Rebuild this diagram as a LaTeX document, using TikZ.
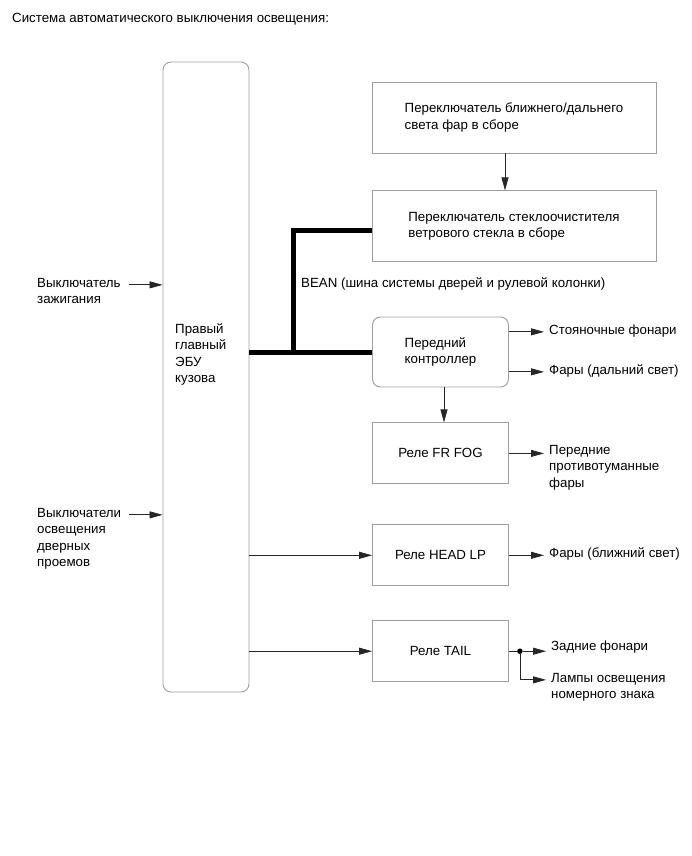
\documentclass[tikz,border=0pt]{standalone}
\usepackage{fontspec}
\setmainfont{Liberation Sans}
\usetikzlibrary{arrows.meta,positioning}

% multi-line text whose baseline is the first line
\newcommand{\toplines}[1]{\begin{tabular}[t]{@{}l@{}}#1\end{tabular}}

\begin{document}
\begin{tikzpicture}[
    x=1pt, y=-1pt,
    font=\fontsize{13.3}{16.3}\selectfont,
    node distance=35pt,
    box/.style={rectangle, draw=black!38, line width=0.9pt, minimum width=136pt, minimum height=61pt, align=left},
    wide/.style={box, minimum width=284pt, minimum height=71pt},
    rbox/.style={box, rounded corners=8pt},
    lbl/.style={align=left, inner sep=0pt},
    dot/.style={circle, fill=black, inner sep=0pt, minimum size=5.5pt},
    line/.style={line width=0.8pt, draw=black!85},
    arrow/.style={line, -{Triangle[length=13pt,width=7pt]}},
    outarrow/.style={arrow, shorten >=5pt},
    bus/.style={line width=5pt}
]
    \useasboundingbox (0,0) rectangle (692,856);
    \node[lbl, anchor=base west] (title) at (12,22.5) {Система автоматического выключения освещения:};

    % body ECU
    \node[rbox, minimum width=86pt, minimum height=630pt] (ecu) at (206,377) {};
    \node[lbl, anchor=base west] (ecutxt) at (175,333.5) {\toplines{Правый\\главный\\ЭБУ\\кузова}};

    % switches and controller
    \node[wide] (sw) at (514,117.5) {Переключатель ближнего/дальнего\\света фар в сборе};
    \node[wide, below=37pt of sw] (wiper) {Переключатель стеклоочистителя\\ветрового стекла в сборе};
    \node[rbox, minimum height=70pt] (ctrl) at (440.5,352) {Передний\\контроллер};

    % relays
    \node[box, below=of ctrl] (fog) {Реле FR FOG};
    \node[box, below=40pt of fog] (head) {Реле HEAD LP};
    \node[box, below=34pt of head] (tail) {Реле TAIL};
    \node[dot, right=8pt of tail] (split) {};

    % inputs
    \node[lbl, anchor=base west] (ign) at (37,287.5) {\toplines{Выключатель\\зажигания}};
    \node[lbl, anchor=base west] (door) at (37,517.5) {\toplines{Выключатели\\освещения\\дверных\\проемов}};

    % outputs
    \node[lbl, anchor=base west] (bean) at (301,287.5) {BEAN (шина системы дверей и рулевой колонки)};
    \node[lbl, anchor=base west] (park) at (549,334.5) {Стояночные фонари};
    \node[lbl, anchor=base west] (high) at (549,374.5) {Фары (дальний свет)};
    \node[lbl, anchor=base west] (foglamp) at (549,454.5) {\toplines{Передние\\противотуманные\\фары}};
    \node[lbl, anchor=base west] (low) at (549,557.5) {Фары (ближний свет)};
    \node[lbl, anchor=base west] (rear) at (551,650.5) {Задние фонари};
    \node[lbl, anchor=base west] (plate) at (551,682.5) {\toplines{Лампы освещения\\номерного знака}};

    \draw[arrow, shorten <=8pt] (ign.mid east) -- (ecu.west |- ign.mid east);
    \draw[arrow, shorten <=8pt] (door.mid east) -- (ecu.west |- door.mid east);

    \draw[arrow] ([xshift=-9pt]sw.south) -- ([xshift=-9pt]wiper.north);
    \draw[bus] (ecu.east |- ctrl.west) -- (ctrl.west);
    \coordinate (bj) at (293,352);
    \draw[bus] (bj) |- ([yshift=-4pt]wiper.west);

    \draw[outarrow] (ctrl.east |- park.mid west) -- (park.mid west);
    \draw[outarrow] (ctrl.east |- high.mid west) -- (high.mid west);
    \draw[arrow] ([xshift=3.5pt]ctrl.south) -- ([xshift=3.5pt]fog.north);
    \draw[outarrow] (fog.east) -- (fog.east -| foglamp.mid west);

    \draw[arrow] (ecu.east |- head.west) -- (head.west);
    \draw[outarrow] (head.east) -- (head.east -| low.mid west);
    \draw[arrow] (ecu.east |- tail.west) -- (tail.west);
    \draw[line] (tail.east) -- (split);
    \draw[outarrow] (split) -- (split -| rear.mid west);
    \draw[outarrow] (split) |- (plate.mid west);
\end{tikzpicture}
\end{document}
